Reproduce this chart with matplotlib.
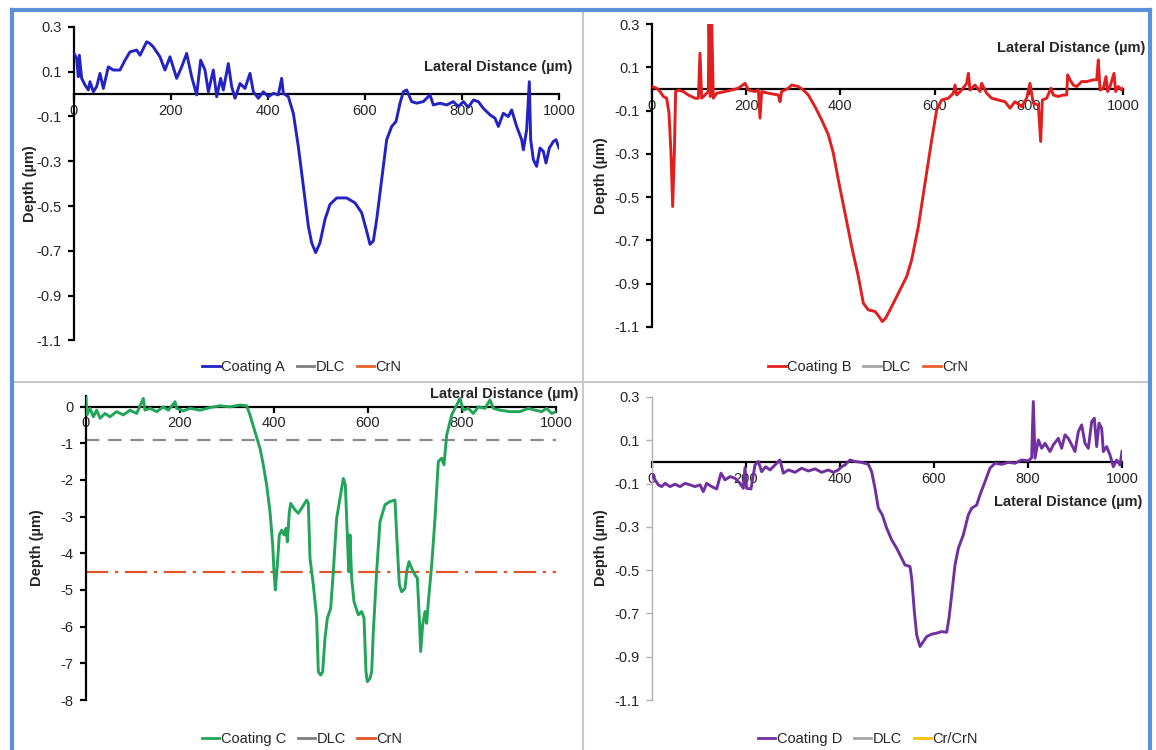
import matplotlib
matplotlib.use("Agg")
import matplotlib.pyplot as plt
from matplotlib.lines import Line2D

plt.rcParams['font.family'] = ['Liberation Sans', 'DejaVu Sans']

# ---------------- data ----------------
xA = [0, 5.5, 8.9, 11, 15.8, 22.7, 29.6, 33, 39.9, 46.7, 53.6, 60.5, 70.8, 81.1, 94.8, 105.2, 115.5,
      129.2, 136.1, 149.8, 156.7, 163.6, 177.3, 187.6, 197.9, 211.7, 222, 232.3, 242.6, 252.9, 261.2,
      270.1, 277, 287.3, 294.2, 302.4, 307.9, 318.2, 325.1, 332, 342.3, 352.6, 362.9, 369.8, 380.1,
      390.4, 400.7, 411, 421.3, 428.2, 431.6, 441.9, 452.2, 462.5, 472.9, 483.2, 490, 498.3, 507.2,
      517.5, 527.8, 541.6, 562.2, 579.4, 593.1, 603.4, 610.3, 617.2, 624.1, 634.4, 644.7, 655, 663.9,
      672.2, 679, 685.9, 696.2, 706.5, 720.3, 734, 740.9, 754.6, 768.4, 782.1, 792.4, 802.7, 813.1,
      823.4, 833.7, 844, 857.7, 868, 874.9, 885.2, 895.5, 902.4, 912.7, 923, 926.5, 933.3, 938.8,
      941.6, 947.1, 953.9, 960.8, 967.7, 973.2, 980.1, 988.3, 993.8, 1000]
yA = [0.181, 0.159, 0.077, 0.173, 0.070, 0.040, 0.018, 0.055, 0.010, 0.033, 0.092, 0.025, 0.121, 0.107,
      0.107, 0.151, 0.188, 0.196, 0.173, 0.233, 0.225, 0.210, 0.166, 0.107, 0.166, 0.070, 0.121, 0.181,
      0.077, -0.004, 0.151, 0.107, 0.010, 0.107, -0.012, 0.070, 0.018, 0.136, 0.033, -0.019, 0.047,
      0.025, 0.092, 0.010, -0.019, 0.010, -0.012, 0.003, -0.004, 0.070, 0.003, -0.012, -0.086, -0.234,
      -0.412, -0.590, -0.664, -0.708, -0.664, -0.560, -0.493, -0.464, -0.464, -0.486, -0.530, -0.612,
      -0.671, -0.656, -0.560, -0.382, -0.204, -0.145, -0.123, -0.041, 0.010, 0.018, -0.034, -0.041,
      -0.034, -0.004, -0.049, -0.041, -0.049, -0.034, -0.056, -0.034, -0.059, -0.027, -0.034, -0.064,
      -0.093, -0.108, -0.145, -0.086, -0.101, -0.071, -0.145, -0.204, -0.249, -0.160, 0.055, -0.204,
      -0.293, -0.323, -0.241, -0.256, -0.308, -0.241, -0.212, -0.204, -0.241]

xB = [0, 9.9, 17, 24.1, 31.1, 36.1, 40.3, 43.9, 47.4, 50.2, 55.9, 66.5, 77.1, 91.3, 98.4, 101.9, 105.4,
      112.5, 119.6, 121, 123.8, 126.7, 130.2, 137.3, 155, 169.1, 183.3, 197.5, 204.5, 218.7, 225.8,
      229.3, 232.8, 247, 268.2, 271.8, 275.3, 289.5, 296.5, 310.7, 321.3, 331.9, 346.1, 360.2, 374.4,
      385, 395.6, 409.8, 423.9, 438.1, 448.7, 459.3, 473.5, 482, 489, 496.1, 505.3, 523, 540.7, 551.3,
      565.5, 579.6, 593.8, 604.4, 615, 629.2, 639.8, 643.3, 646.9, 657.5, 668.1, 671.6, 675.2, 685.8,
      696.4, 699.9, 710.5, 721.2, 735.3, 749.5, 760.1, 770.7, 784.9, 795.5, 802.5, 809.6, 820.2, 825.2,
      828.7, 837.9, 847.1, 852.1, 862.7, 873.3, 880.4, 882.5, 887.5, 894.5, 901.6, 912.2, 922.9, 937,
      944.1, 947.6, 951.2, 958.2, 963.9, 967.4, 972.4, 980.9, 984.4, 990.1, 997.2, 1000]
yB = [0.011, 0.003, -0.012, -0.035, -0.043, -0.112, -0.297, -0.543, -0.297, -0.012, -0.005, -0.012,
      -0.028, -0.043, -0.043, 0.165, -0.043, -0.028, -0.012, 0.32, -0.035, 0.32, -0.043, -0.020, -0.012,
      -0.005, 0.003, 0.026, -0.005, -0.012, -0.005, -0.135, -0.012, -0.020, -0.028, -0.059, -0.012,
      0.003, 0.018, 0.011, -0.005, -0.028, -0.082, -0.143, -0.212, -0.297, -0.420, -0.574, -0.728,
      -0.867, -0.990, -1.021, -1.028, -1.052, -1.075, -1.059, -1.021, -0.944, -0.867, -0.790, -0.636,
      -0.436, -0.236, -0.097, -0.051, -0.043, -0.020, 0.018, -0.028, -0.005, 0.026, 0.072, -0.005,
      0.018, -0.012, 0.026, -0.020, -0.043, -0.051, -0.059, -0.089, -0.059, -0.082, -0.043, 0.026,
      -0.066, -0.074, -0.243, -0.051, -0.043, 0.003, -0.028, -0.035, -0.028, -0.028, 0.065, 0.042,
      0.018, 0.011, 0.034, 0.034, 0.042, 0.042, 0.134, -0.005, 0.003, 0.057, -0.012, 0.011, 0.072,
      -0.012, 0.011, -0.005, 0.003]

xC = [0, 2, 8.5, 15.6, 22.7, 29.8, 40.4, 51.1, 65.2, 79.4, 93.6, 107.8, 122, 125.5, 136.2, 150.4, 164.5,
      175.2, 189.4, 192.9, 207.1, 221.3, 242.6, 263.8, 285.1, 306.4, 327.7, 341.8, 348.9, 359.6, 370.2,
      375.9, 384.4, 391.5, 397.2, 400, 402.8, 407.1, 411.3, 416.3, 421.3, 425.5, 428.4, 432.6, 435.5,
      444.7, 451.8, 458.9, 469.5, 473, 476.6, 483.7, 490.8, 494.3, 499.3, 503.5, 508.5, 513.5, 520.6,
      526.2, 533.3, 540.4, 547.5, 551.8, 556, 558.9, 561.7, 565.2, 570.2, 579.4, 586.5, 591.5, 595.7,
      598.6, 604.3, 607.8, 611.3, 618.4, 625.5, 636.2, 646.8, 657.4, 661, 666.7, 671.6, 678.7, 682.3,
      687.2, 692.9, 700, 705, 709.2, 712.1, 716.3, 721.3, 724.8, 728.4, 735.5, 742.6, 749.6, 756.7,
      761.7, 767.4, 778, 788.7, 795.7, 802.8, 813.5, 824.1, 834.8, 848.9, 859.6, 866.7, 880.9, 902.1,
      923.4, 941.1, 955.3, 969.5, 980.1, 990.8, 1000]
yC = [0.27, -0.23, -0.05, -0.28, -0.10, -0.32, -0.19, -0.28, -0.14, -0.23, -0.10, -0.19, 0.22, -0.10,
      -0.05, -0.14, -0.01, -0.10, 0.13, -0.05, -0.12, -0.05, -0.10, -0.03, 0.02, -0.01, 0.04, 0.02, -0.23,
      -0.69, -1.14, -1.50, -2.14, -2.87, -3.77, -4.50, -5.00, -4.32, -3.50, -3.37, -3.50, -3.32, -3.69,
      -2.87, -2.64, -2.82, -2.91, -2.77, -2.55, -2.64, -4.14, -4.86, -5.77, -7.23, -7.32, -7.23, -6.32,
      -5.77, -5.50, -4.50, -3.05, -2.50, -1.96, -2.14, -3.50, -4.50, -3.50, -4.68, -5.32, -5.68, -5.59,
      -5.77, -7.23, -7.50, -7.41, -7.23, -6.14, -4.50, -3.14, -2.68, -2.59, -2.55, -3.50, -4.86, -5.05,
      -4.96, -4.50, -4.23, -4.41, -4.59, -4.68, -5.77, -6.68, -5.95, -5.59, -5.91, -5.32, -4.32, -3.05,
      -1.50, -1.41, -1.59, -0.78, -0.23, 0.04, 0.22, -0.10, -0.05, -0.19, -0.01, -0.05, 0.18, -0.05,
      -0.10, -0.14, -0.14, -0.05, -0.10, -0.14, -0.05, -0.19, -0.14]

xD = [0, 6.4, 13.5, 20.6, 27.7, 38.3, 48.9, 59.6, 70.2, 80.9, 91.5, 102.1, 109.2, 116.3, 127, 137.6,
      146.8, 155.3, 166, 176.6, 187.2, 194.3, 197.9, 201.4, 210.6, 215.6, 219.1, 226.2, 233.3, 241.8,
      251.1, 261.7, 272.3, 279.4, 290.1, 304.3, 318.4, 332.6, 346.8, 361, 375.2, 385.8, 396.5, 403.5,
      410.6, 421.3, 431.9, 446.1, 460.3, 467.4, 474.5, 481.6, 490.1, 499.3, 509.9, 520.6, 531.2, 538.3,
      548.9, 552.5, 558.2, 563.1, 570.2, 577.3, 584.4, 595, 605.7, 616.3, 627, 631.9, 637.6, 644.7,
      651.8, 662.4, 673, 680.1, 690.8, 697.9, 708.5, 719.1, 729.8, 744, 758.2, 772.3, 786.5, 800.7,
      807.8, 811.3, 814.9, 822, 829.1, 836.2, 846.8, 853.9, 864.5, 871.6, 878.7, 885.8, 892.9, 900,
      907.1, 914.2, 921.3, 928.4, 935.5, 941.1, 946.1, 951.1, 956.7, 960.3, 967.4, 974.5, 981.6, 988.7,
      995.7, 1000]
yD = [-0.060, -0.083, -0.106, -0.114, -0.099, -0.114, -0.103, -0.114, -0.099, -0.106, -0.114, -0.106,
      -0.137, -0.099, -0.114, -0.125, -0.052, -0.083, -0.068, -0.075, -0.099, -0.122, -0.026, -0.122,
      -0.125, -0.060, -0.014, 0.002, -0.045, -0.022, -0.037, -0.014, 0.009, -0.052, -0.037, -0.048,
      -0.029, -0.042, -0.032, -0.048, -0.037, -0.048, -0.037, -0.022, -0.014, 0.009, 0.002, -0.002,
      -0.011, -0.045, -0.122, -0.214, -0.245, -0.306, -0.360, -0.399, -0.445, -0.476, -0.483, -0.537,
      -0.691, -0.799, -0.853, -0.830, -0.807, -0.796, -0.791, -0.784, -0.787, -0.722, -0.614, -0.476,
      -0.399, -0.337, -0.245, -0.214, -0.199, -0.152, -0.091, -0.029, -0.006, -0.011, -0.002, -0.006,
      0.009, 0.005, 0.020, 0.279, 0.017, 0.102, 0.063, 0.086, 0.048, 0.079, 0.109, 0.063, 0.125, 0.109,
      0.079, 0.048, 0.140, 0.171, 0.086, 0.063, 0.186, 0.202, 0.071, 0.179, 0.156, 0.048, 0.071, 0.032,
      -0.022, 0.009, -0.014, 0.048]

DLC_DEPTH_C = -0.9
CRN_DEPTH_C = -4.5

ticks_small = [0.3, 0.1, -0.1, -0.3, -0.5, -0.7, -0.9, -1.1]
ticks_small_labels = ["0.3", "0.1", "-0.1", "-0.3", "-0.5", "-0.7", "-0.9", "-1.1"]
ticks_C = [0, -1, -2, -3, -4, -5, -6, -7, -8]
ticks_C_labels = ["0", "-1", "-2", "-3", "-4", "-5", "-6", "-7", "-8"]
xticks = [0, 200, 400, 600, 800, 1000]
xtick_labels = ["0", "200", "400", "600", "800", "1000"]

# ---------------- layout ----------------
W, H = 1156, 750
fig = plt.figure(figsize=(W / 100, H / 100), dpi=100)
fig.patch.set_facecolor('white')


def fx(px):
    return px / W


def fy(py):
    return 1 - py / H


def make_ax(left, right, top, bottom):
    return fig.add_axes([fx(left), fy(bottom), fx(right) - fx(left), fy(top) - fy(bottom)])


TXT = '#262626'
FS = 10.5
BLUE = '#2323c4'
RED = '#e21f1f'
GREEN = '#22a558'
PURPLE = '#7030a0'
GRAY = '#8c8c8c'
ORANGE = '#e8602c'
YELLOW = '#ffc000'


def style(ax, yt, ytl, ylo, yhi, ycolor='black'):
    ax.set_xlim(0, 1000)
    ax.set_ylim(ylo, yhi)
    for s in ['top', 'right']:
        ax.spines[s].set_visible(False)
    ax.spines['bottom'].set_position(('data', 0))
    ax.spines['bottom'].set_linewidth(1.6)
    ax.spines['bottom'].set_zorder(1)
    ax.spines['left'].set_linewidth(1.6 if ycolor == 'black' else 1.0)
    ax.spines['left'].set_color(ycolor)
    ax.set_xticks(xticks)
    ax.set_xticklabels(xtick_labels)
    ax.set_yticks(yt)
    ax.set_yticklabels(ytl)
    ax.tick_params(axis='x', direction='out', length=4, width=1.6, pad=3,
                   labelsize=FS, labelcolor=TXT)
    ax.tick_params(axis='y', direction='out', length=4, width=1.6 if ycolor == 'black' else 1.0,
                   color=ycolor, pad=5, labelsize=FS, labelcolor=TXT)
    ax.patch.set_alpha(0)


def legend(handles_spec, cx, cy):
    hs = [Line2D([], [], color=c, lw=2.0) for c, _ in handles_spec]
    labs = [l for _, l in handles_spec]
    fig.legend(hs, labs, loc='center', bbox_to_anchor=(fx(cx), fy(cy)),
               bbox_transform=fig.transFigure, ncol=3, frameon=False, fontsize=FS,
               handlelength=1.2, handletextpad=0.1, columnspacing=0.8,
               labelcolor=TXT)


# Panel A
axA = make_ax(74, 559, 26.8, 340.4)
axA.plot(xA, yA, color=BLUE, lw=2.1, zorder=3)
style(axA, ticks_small, ticks_small_labels, -1.1, 0.3)
fig.text(fx(572), fy(67), "Lateral Distance (µm)", ha='right', va='center',
         fontsize=FS, fontweight='bold', color=TXT)
fig.text(fx(30), fy(184), "Depth (µm)", rotation=90, ha='center', va='center',
         fontsize=FS, fontweight='bold', color=TXT)
legend([(BLUE, 'Coating A'), ('#7f7f7f', 'DLC'), (ORANGE, 'CrN')], 302, 367)

# Panel B
axB = make_ax(652, 1123, 24, 327)
axB.plot(xB, yB, color=RED, lw=2.1, zorder=3)
style(axB, ticks_small, ticks_small_labels, -1.1, 0.3)
fig.text(fx(1145), fy(48), "Lateral Distance (µm)", ha='right', va='center',
         fontsize=FS, fontweight='bold', color=TXT)
fig.text(fx(601), fy(176), "Depth (µm)", rotation=90, ha='center', va='center',
         fontsize=FS, fontweight='bold', color=TXT)
legend([(RED, 'Coating B'), ('#a5a5a5', 'DLC'), (ORANGE, 'CrN')], 868, 367)

# Panel C
axC = make_ax(86, 556, 395.5, 700)
axC.axhline(DLC_DEPTH_C, color=GRAY, lw=1.6, dashes=(6, 4), zorder=2)
axC.axhline(CRN_DEPTH_C, color='#e2542a', lw=1.6, dashes=(10, 3, 1.5, 3), zorder=2)
axC.plot(xC, yC, color=GREEN, lw=2.1, zorder=3)
style(axC, ticks_C, ticks_C_labels, -8, 0.3)
fig.text(fx(578), fy(394), "Lateral Distance (µm)", ha='right', va='center',
         fontsize=FS, fontweight='bold', color=TXT)
fig.text(fx(37), fy(548), "Depth (µm)", rotation=90, ha='center', va='center',
         fontsize=FS, fontweight='bold', color=TXT)
legend([(GREEN, 'Coating C'), ('#7f7f7f', 'DLC'), ('#e2542a', 'CrN')], 302, 739)

# Panel D
axD = make_ax(652, 1122, 397, 700)
axD.plot(xD, yD, color=PURPLE, lw=2.1, zorder=3)
style(axD, ticks_small, ticks_small_labels, -1.1, 0.3, ycolor='#b0b0b0')
fig.text(fx(1142), fy(502), "Lateral Distance (µm)", ha='right', va='center',
         fontsize=FS, fontweight='bold', color=TXT)
fig.text(fx(601), fy(548), "Depth (µm)", rotation=90, ha='center', va='center',
         fontsize=FS, fontweight='bold', color=TXT)
legend([(PURPLE, 'Coating D'), ('#a5a5a5', 'DLC'), (YELLOW, 'Cr/CrN')], 868, 739)

# dividers and frame
fig.add_artist(Line2D([fx(583), fx(583)], [fy(10), fy(750)], color='#c8c8c8', lw=1.5))
fig.add_artist(Line2D([fx(12), fx(1150)], [fy(382), fy(382)], color='#c8c8c8', lw=1.5))
BORDER = '#5b91d8'
fig.add_artist(Line2D([fx(12), fx(12)], [fy(10), fy(750)], color=BORDER, lw=3))
fig.add_artist(Line2D([fx(12), fx(1150)], [fy(10), fy(10)], color=BORDER, lw=3))
fig.add_artist(Line2D([fx(1150), fx(1150)], [fy(10), fy(750)], color=BORDER, lw=3))

fig.savefig("out.png", dpi=100, facecolor='white')
